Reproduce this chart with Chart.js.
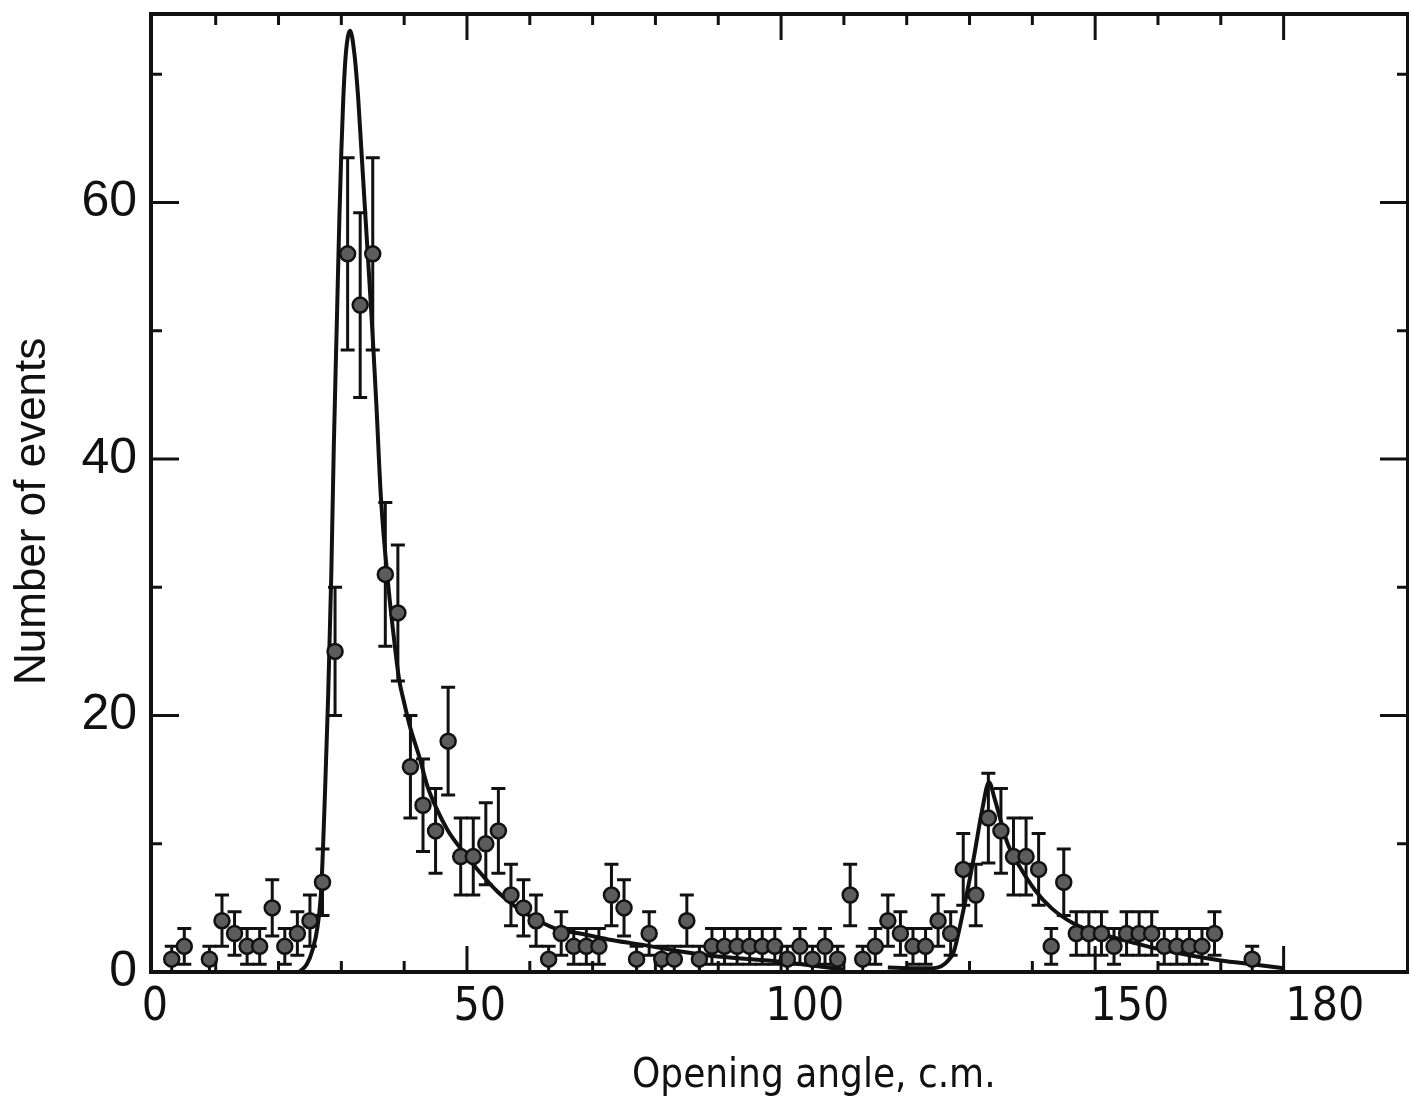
<!DOCTYPE html>
<html>
<head>
<meta charset="utf-8">
<title>Number of events x Opening angle</title>
<script src="https://cdn.jsdelivr.net/npm/chart.js@4.4.1/dist/chart.umd.min.js"></script>
<style>
  html, body { margin: 0; padding: 0; background: #fff; }
  #caixa { width: 1409px; height: 1101px; }
</style>
</head>
<body>
<div id="caixa"><canvas id="grafico" width="1409" height="1101"></canvas></div>
<script>
// 1. Dados (bins de 2 graus, centro do bin)
const angulos = [
    3, 5, 9, 11, 13, 15, 17, 19, 21, 23,
    25, 27, 29, 31, 33, 35, 37, 39, 41, 43,
    45, 47, 49, 51, 53, 55, 57, 59, 61, 63,
    65, 67, 69, 71, 73, 75, 77, 79, 81, 83,
    85, 87, 89, 91, 93, 95, 97, 99, 101, 103,
    105, 107, 109, 111, 113, 115, 117, 119, 121, 123,
    125, 127, 129, 131, 133, 135, 137, 139, 141, 143,
    145, 147, 149, 151, 153, 155, 157, 159, 161, 163,
    165, 167, 169, 175
];
const eventos = [
    1, 2, 1, 4, 3, 2, 2, 5, 2, 3,
    4, 7, 25, 56, 52, 56, 31, 28, 16, 13,
    11, 18, 9, 9, 10, 11, 6, 5, 4, 1,
    3, 2, 2, 2, 6, 5, 1, 3, 1, 1,
    4, 1, 2, 2, 2, 2, 2, 2, 1, 2,
    1, 2, 1, 6, 1, 2, 4, 3, 2, 2,
    4, 3, 8, 6, 12, 11, 9, 9, 8, 2,
    7, 3, 3, 3, 2, 3, 3, 3, 2, 2,
    2, 2, 3, 1
];
const erros = [
    1, 1.4, 1, 2, 1.7, 1.4, 1.4, 2.2, 1.4, 1.7,
    2, 2.6, 5, 7.5, 7.2, 7.5, 5.6, 5.3, 4, 3.6,
    3.3, 4.2, 3, 3, 3.2, 3.3, 2.4, 2.2, 2, 1,
    1.7, 1.4, 1.4, 1.4, 2.4, 2.2, 1, 1.7, 1, 1,
    2, 1, 1.4, 1.4, 1.4, 1.4, 1.4, 1.4, 1, 1.4,
    1, 1.4, 1, 2.4, 1, 1.4, 2, 1.7, 1.4, 1.4,
    2, 1.7, 2.8, 2.4, 3.5, 3.3, 3, 3, 2.8, 1.4,
    2.6, 1.7, 1.7, 1.7, 1.4, 1.7, 1.7, 1.7, 1.4, 1.4,
    1.4, 1.4, 1.7, 1
];

// 2. Curvas ajustadas
const curva1X = [23.3, 24.5, 25.4, 26.2, 26.8, 27.4, 27.9, 28.4, 28.8, 29.3, 29.7, 30.0, 30.3, 30.7, 31.4,
    32.1, 32.7, 33.2, 33.7, 34.2, 34.7, 35.1, 35.6, 36.3, 37.5, 38.5, 39.2, 40.0, 41.0, 42.4, 43.7, 45.2,
    47.0, 49.2, 52.0, 55.0, 58.0, 61.0, 64.6, 68.0, 73.0, 79.4, 84.0, 90.0, 100.0, 105.0, 110.0];
const curva1Y = [0, 0.6, 1.7, 3.5, 6.5, 14, 21.5, 31, 41, 51, 59, 64, 68, 71.5, 73.4,
    71.5, 68, 64, 60, 56, 52, 48.6, 44, 37, 30, 25.5, 22.8, 21, 19, 16.8, 14.5, 12.7,
    11, 9.5, 7.8, 6.2, 5, 4.1, 3.3, 3.0, 2.5, 2.0, 1.6, 1.2, 0.8, 0.5, 0.2];
const curva2X = [117, 121, 124.2, 125.5, 126.6, 127.5, 128.8, 130.6, 132.0, 133.1, 134.0, 136.0, 138.0,
    140.4, 143.0, 146.5, 150, 156, 160, 165, 170, 175, 180];
const curva2Y = [0.35, 0.3, 0.3, 0.45, 0.9, 1.6, 4.3, 8.7, 12.6, 14.8, 13.5, 10.1, 8.2,
    6.4, 5.0, 3.8, 3.1, 2.3, 1.8, 1.3, 0.9, 0.6, 0.3];

// 3. Rotulos dos eixos
const rotulosX = [0, 50, 100, 150, 180];
const rotulosY = [0, 20, 40, 60];

const TINTA = '#111';

// Barras de erro (desenhadas antes dos pontos)
const barrasDeErro = {
    id: 'barrasDeErro',
    beforeDatasetsDraw(chart) {
        const { ctx, scales: { x, y } } = chart;
        ctx.save();
        ctx.strokeStyle = TINTA;
        ctx.lineWidth = 3;
        angulos.forEach((a, i) => {
            const px = x.getPixelForValue(a);
            const topo = y.getPixelForValue(eventos[i] + erros[i]);
            const base = y.getPixelForValue(Math.max(0, eventos[i] - erros[i]));
            ctx.beginPath();
            ctx.moveTo(px, topo); ctx.lineTo(px, base);
            ctx.moveTo(px - 7, topo); ctx.lineTo(px + 7, topo);
            ctx.moveTo(px - 7, base); ctx.lineTo(px + 7, base);
            ctx.stroke();
        });
        ctx.restore();
    }
};

// Moldura e tracinhos para dentro
const moldura = {
    id: 'moldura',
    afterDraw(chart) {
        const { ctx, chartArea: a, scales: { x, y } } = chart;
        ctx.save();
        ctx.strokeStyle = TINTA;
        ctx.lineWidth = 4;
        ctx.strokeRect(a.left, a.top, a.right - a.left, a.bottom - a.top);
        ctx.lineWidth = 3;
        ctx.beginPath();
        for (let v = 10; v <= 180; v += 10) {
            const px = x.getPixelForValue(v);
            const len = rotulosX.includes(v) ? 26 : 11;
            ctx.moveTo(px, a.top); ctx.lineTo(px, a.top + len);
            ctx.moveTo(px, a.bottom); ctx.lineTo(px, a.bottom - len);
        }
        for (let v = 10; v <= 70; v += 10) {
            const py = y.getPixelForValue(v);
            const len = rotulosY.includes(v) ? 28 : 11;
            ctx.moveTo(a.left, py); ctx.lineTo(a.left + len, py);
            ctx.moveTo(a.right, py); ctx.lineTo(a.right - len, py);
        }
        ctx.stroke();
        ctx.restore();
    }
};

const fonteEstreita = "'Liberation Sans Narrow', 'DejaVu Sans Condensed', 'Liberation Sans', sans-serif";

function desenharGrafico() {
    const canvas = document.getElementById('grafico');
    if (!canvas) return;

    new Chart(canvas.getContext('2d'), {
        type: 'scatter',
        data: {
            datasets: [
                {
                    label: 'Eventos',
                    data: angulos.map((a, i) => ({ x: a, y: eventos[i] })),
                    showLine: false,
                    pointRadius: 7.5,
                    pointBackgroundColor: '#5c5c5c',
                    pointBorderColor: TINTA,
                    pointBorderWidth: 2.5
                },
                {
                    label: 'Ajuste 1',
                    data: curva1X.map((a, i) => ({ x: a, y: curva1Y[i] })),
                    showLine: true,
                    borderColor: TINTA,
                    borderWidth: 4,
                    pointRadius: 0,
                    cubicInterpolationMode: 'monotone'
                },
                {
                    label: 'Ajuste 2',
                    data: curva2X.map((a, i) => ({ x: a, y: curva2Y[i] })),
                    showLine: true,
                    borderColor: TINTA,
                    borderWidth: 4,
                    pointRadius: 0,
                    cubicInterpolationMode: 'monotone'
                }
            ]
        },
        options: {
            responsive: false,
            animation: false,
            layout: { autoPadding: false, padding: { top: 14, right: 1, left: 0, bottom: 0 } },
            plugins: { legend: { display: false }, tooltip: { enabled: false } },
            scales: {
                x: { type: 'linear', display: false, min: -0.3, max: 199.8 },
                // eixo so para os numeros escritos a mao (um pouco deslocados)
                xl: {
                    type: 'linear',
                    position: 'bottom',
                    min: -0.6,
                    max: 192.8,
                    afterBuildTicks: s => { s.ticks = rotulosX.map(v => ({ value: v })); },
                    afterFit: s => { s.height = 129; s.paddingLeft = 0; s.paddingRight = 0; },
                    grid: { display: false, drawTicks: false },
                    border: { display: false },
                    ticks: {
                        autoSkip: false,
                        maxRotation: 0,
                        padding: 8,
                        color: TINTA,
                        font: { family: fonteEstreita, size: 46 }
                    },
                    title: {
                        display: true,
                        text: '      Opening angle, c.m.',
                        color: TINTA,
                        padding: { top: 0, bottom: 0 },
                        font: { family: fonteEstreita, size: 40 }
                    }
                },
                y: {
                    type: 'linear',
                    min: 0,
                    max: 74.7,
                    afterBuildTicks: s => { s.ticks = rotulosY.map(v => ({ value: v })); },
                    afterFit: s => { s.width = 151; s.paddingTop = 0; s.paddingBottom = 0; },
                    grid: { display: false, drawTicks: false },
                    border: { display: false },
                    ticks: {
                        autoSkip: false,
                        padding: 14,
                        color: TINTA,
                        font: { family: "'Liberation Sans', sans-serif", size: 50 }
                    },
                    title: {
                        display: true,
                        text: 'Number of events   ',
                        color: TINTA,
                        padding: { top: 6, bottom: 0 },
                        font: { family: "'Liberation Sans', sans-serif", size: 44 }
                    }
                }
            }
        },
        plugins: [barrasDeErro, moldura]
    });
}

document.addEventListener('DOMContentLoaded', desenharGrafico);
</script>
</body>
</html>
